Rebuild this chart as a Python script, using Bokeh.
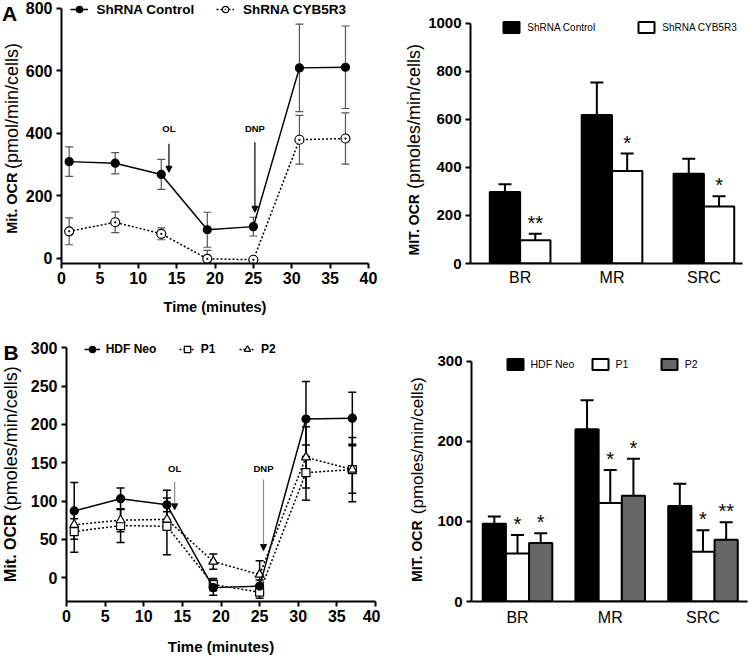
import numpy as np
from bokeh.plotting import figure
from bokeh.models import (ColumnDataSource, Whisker, TeeHead, Arrow, NormalHead, Legend,
                          LegendItem, Label, SingleIntervalTicker, FixedTicker)
from bokeh.layouts import column, row
from bokeh.embed import file_html
from bokeh.resources import INLINE
from bokeh.core.properties import value

FONT = "Liberation Sans"

# ---------------- data ----------------
time_min = [1, 7, 13, 19, 25, 31, 37]

# Panel A (left): mitochondrial OCR time course
shctrl_ocr = [309, 304, 268, 91, 101, 609, 611]
shctrl_err = [47, 34, 48, 56, 30, 140, 132]
shcyb_ocr = [86, 115, 78, -2, -5, 379, 383]
shcyb_err = [43, 33, 19, 27, 5, 78, 82]
a_injections = ["OL", "DNP"]
a_inj_time = [14, 25.2]
a_arrow_top = [366, 371]
a_arrow_tip = [275, 147]
a_inj_label_y = [414, 414]

# Panel A (right): bars
categories = ["BR", "MR", "SRC"]
a_ctrl_bar = [298, 619, 374]
a_ctrl_bar_err = [32, 135, 62]
a_cyb_bar = [97, 385, 237]
a_cyb_bar_err = [27, 73, 43]
a_cyb_stars = ["**", "*", "*"]

# Panel B (left): time course
hdf_ocr = [87, 103, 95, -13, -11, 207, 208]
hdf_err = [37, 14, 19, 10, 8, 49, 34]
p1_ocr = [60, 68, 67, -9, -19, 137, 141]
p1_err = [27, 22, 37, 8, 8, 36, 42]
p2_ocr = [69, 75, 76, 21, 4, 157, 141]
p2_err = [8, 15, 10, 10, 18, 40, 31]
b_injections = ["OL", "DNP"]
b_inj_time = [14, 25.5]
b_arrow_top = [125, 128]
b_arrow_tip = [88.5, 35.4]
b_inj_label_y = [143, 143]

# Panel B (right): bars
b_hdf_bar = [97, 215, 119]
b_hdf_bar_err = [9, 36, 28]
b_p1_bar = [60, 123, 62]
b_p1_bar_err = [23, 41, 27]
b_p2_bar = [73, 132, 77]
b_p2_bar_err = [12, 46, 22]
b_p1_stars = ["*", "*", "*"]
b_p2_stars = ["*", "*", "**"]


# ---------------- layout geometry (pixels) ----------------
class Geo:
    def __init__(self, fx, fy, w, h, left, right, top, bottom, xr, yr):
        self.fx, self.fy, self.w, self.h = fx, fy, w, h
        self.left, self.right, self.top, self.bottom = left, right, top, bottom
        self.fw = w - left - right
        self.fh = h - top - bottom
        self.xr, self.yr = xr, yr

    def fig(self, **kw):
        return figure(width=self.w, height=self.h, x_range=self.xr, y_range=self.yr,
                      output_backend="svg", toolbar_location=None,
                      min_border_left=self.left, min_border_right=self.right,
                      min_border_top=self.top, min_border_bottom=self.bottom, **kw)

    def loc(self, px, py):
        # legend bottom-left corner (page px) -> frame-relative screen offsets
        return (px - (self.fx + self.left), (self.fy + self.top + self.fh) - py)


def strip(fx, fy, w, h, top, bottom):
    # a text-only strip whose data units are page pixels
    g = Geo(fx, fy, w, h, 0, 0, top, bottom, (fx, fx + w), (fy + h - bottom, fy + top))
    p = g.fig(x_axis_type=None, y_axis_type=None)
    p.outline_line_color = None
    return p


# ---------------- helpers ----------------
def style(p, tick_size, x_bold=True, x_tick_out=5, x_standoff=3):
    p.xgrid.visible = False
    p.ygrid.visible = False
    p.outline_line_color = None
    for ax in list(p.xaxis) + list(p.yaxis):
        ax.axis_line_width = 2
        ax.axis_line_color = "black"
        ax.major_tick_line_width = 2
        ax.major_tick_line_color = "black"
        ax.major_tick_in = 0
        ax.major_tick_out = 5
        ax.minor_tick_line_color = None
        ax.major_label_text_font = FONT
        ax.major_label_text_font_size = tick_size
        ax.major_label_text_font_style = "bold"
        ax.major_label_text_color = "black"
        ax.major_label_standoff = 4
        ax.axis_label_text_font = FONT
        ax.axis_label_text_font_style = "bold"
        ax.axis_label_text_color = "black"
    for ax in p.xaxis:
        ax.major_tick_out = x_tick_out
        ax.major_label_standoff = x_standoff
        if not x_bold:
            ax.major_label_text_font_style = "normal"


def ylabel(p, px, py_bold, bold_text, bold_size, py_norm, norm_text, norm_size):
    for py, txt, size, st in ((py_bold, bold_text, bold_size, "bold"),
                              (py_norm, norm_text, norm_size, "normal")):
        p.add_layout(Label(x=px, y=py, text=txt, angle=90, angle_units="deg",
                           text_align="left", text_baseline="middle", text_font=FONT,
                           text_font_style=st, text_font_size=size, text_color="black"))


def panel_letter(p, text, px, py):
    p.add_layout(Label(x=px, y=py, text=text, text_align="left", text_baseline="top",
                       text_font=FONT, text_font_style="bold", text_font_size="21px",
                       text_color="black"))


def add_legend(p, g, renderers, label, px, py_bottom, gw, gh, standoff, size, bold):
    leg = Legend(items=[LegendItem(label=label, renderers=renderers)],
                 location=g.loc(px, py_bottom),
                 orientation="horizontal", glyph_width=int(gw), glyph_height=int(gh),
                 label_height=int(gh), label_width=10, label_standoff=int(round(standoff)),
                 padding=0, margin=0, spacing=0,
                 background_fill_alpha=0, border_line_alpha=0,
                 label_text_font=FONT, label_text_font_size=size,
                 label_text_font_style="bold" if bold else "normal", label_text_color="black")
    p.add_layout(leg)


def series(p, vals, errs, marker, fill, dash, err_color, err_w, size):
    src = ColumnDataSource(dict(x=time_min, y=vals,
                                lo=np.array(vals) - np.array(errs),
                                hi=np.array(vals) + np.array(errs)))
    p.add_layout(Whisker(base="x", upper="hi", lower="lo", source=src, line_color=err_color,
                         line_width=err_w,
                         upper_head=TeeHead(size=8, line_color=err_color, line_width=err_w),
                         lower_head=TeeHead(size=8, line_color=err_color, line_width=err_w)))
    ln = p.line("x", "y", source=src, line_color="black", line_width=1.5, line_dash=dash)
    sc = p.scatter("x", "y", source=src, marker=marker, size=size, fill_color=fill,
                   line_color="black", line_width=1.2)
    return [ln, sc]


def injections(p, names, xs, tops, tips, label_y, line_color):
    src = ColumnDataSource(dict(x=xs, top=tops, tip=tips))
    p.add_layout(Arrow(x_start="x", y_start="top", x_end="x", y_end="tip", source=src,
                       line_color=line_color, line_width=1.2,
                       end=NormalHead(size=6, fill_color="black", line_color="black",
                                      line_width=1)))
    p.text(x=xs, y=label_y, text=names, text_align="center", text_baseline="middle",
           text_font=value(FONT), text_font_style="bold", text_font_size="9.5px",
           text_color="black")


def bars(p, vals, errs, offset, width, fill, stars=None):
    xs = np.arange(1, len(categories) + 1) + offset
    src = ColumnDataSource(dict(x=xs, top=vals, hi=np.array(vals) + np.array(errs)))
    r = p.vbar(x="x", top="top", width=width, bottom=0, source=src, fill_color=fill,
               line_color="black", line_width=2)
    p.add_layout(Whisker(base="x", upper="hi", lower="top", source=src, line_color="black",
                         line_width=2, upper_head=TeeHead(size=13, line_color="black", line_width=2),
                         lower_head=None))
    if stars is not None:
        p.text(x=xs, y=np.array(vals) + np.array(errs), text=stars, text_align="center",
               text_baseline="bottom", text_font=value(FONT), text_font_size="20px",
               text_color="black")
    return r


def cat_axis(p):
    p.xaxis.ticker = FixedTicker(ticks=list(range(1, len(categories) + 1)))
    p.xaxis.major_label_overrides = {i + 1: c for i, c in enumerate(categories)}
    p.xaxis.major_label_text_font_size = "16px"


TOP_H, TOP_T, TOP_B = 320, 0, 57
BOT_Y, BOT_H, BOT_T, BOT_B = 320, 337, 16, 54

# ---------------- Panel A left ----------------
sA = strip(0, 0, 22, TOP_H, TOP_T, TOP_B)
ylabel(sA, 11.5, 233.3, "Mit. OCR", "14.5px", 168.5, "(pmol/min/cells)", "18px")
panel_letter(sA, "A", 1.5, 1.5)

gA = Geo(22, 0, 358, TOP_H, 39, 12, TOP_T, TOP_B, (0, 40), (-17, 824.6))
pa = gA.fig()
style(pa, "16px")
pa.xaxis.ticker = SingleIntervalTicker(interval=5, num_minor_ticks=0)
pa.yaxis.ticker = SingleIntervalTicker(interval=200, num_minor_ticks=0)
pa.yaxis.bounds = (gA.yr[0], 800)
pa.xaxis.axis_label = "Time (minutes)"
pa.xaxis.axis_label_text_font_size = "14.5px"
pa.xaxis.axis_label_standoff = 12
r_ctrl = series(pa, shctrl_ocr, shctrl_err, "circle", "black", "solid", "#555555", 1.2, 8)
r_cyb = series(pa, shcyb_ocr, shcyb_err, "circle_dot", "white", "2 2", "#555555", 1.2, 9)
injections(pa, a_injections, a_inj_time, a_arrow_top, a_arrow_tip, a_inj_label_y, "black")
add_legend(pa, gA, r_ctrl, "ShRNA Control", 69.5, 17.3, 18, 16, 9, "13.5px", True)
add_legend(pa, gA, r_cyb, "ShRNA CYB5R3", 216, 17.3, 18, 16, 9, "13.5px", True)

# ---------------- Panel A right ----------------
sB = strip(380, 0, 45, TOP_H, TOP_T, TOP_B)
ylabel(sB, 413.3, 255, "MIT. OCR", "14px", 188.5, "(pmoles/min/cells)", "18px")

gB = Geo(425, 0, 325, TOP_H, 42, 8, TOP_T, TOP_B, (0.46, 3.42), (0, 1095.8))
pb = gB.fig()
style(pb, "15px", x_bold=False, x_tick_out=0, x_standoff=5)
cat_axis(pb)
pb.yaxis.ticker = SingleIntervalTicker(interval=200, num_minor_ticks=0)
pb.yaxis.bounds = (0, 1000)
rb1 = bars(pb, a_ctrl_bar, a_ctrl_bar_err, -0.165, 0.33, "black")
rb2 = bars(pb, a_cyb_bar, a_cyb_bar_err, 0.165, 0.33, "white", a_cyb_stars)
add_legend(pb, gB, [rb1], "ShRNA Control", 498.3, 34.2, 20, 14, 6, "10px", False)
add_legend(pb, gB, [rb2], "ShRNA CYB5R3", 633.3, 34.2, 20, 14, 6, "10px", False)

# ---------------- Panel B left ----------------
sC = strip(0, BOT_Y, 24, BOT_H, BOT_T, BOT_B)
ylabel(sC, 10, 583.3, "Mit. OCR", "16px", 512, "(pmoles/min/cells)", "18px")
panel_letter(sC, "B", 3, 341)

gC = Geo(24, BOT_Y, 356, BOT_H, 42, 5, BOT_T, BOT_B, (0, 40), (-31.1, 314.6))
pc = gC.fig()
style(pc, "16px")
pc.xaxis.ticker = SingleIntervalTicker(interval=5, num_minor_ticks=0)
pc.yaxis.ticker = SingleIntervalTicker(interval=50, num_minor_ticks=0)
pc.yaxis.bounds = (gC.yr[0], 300)
pc.xaxis.axis_label = "Time (minutes)"
pc.xaxis.axis_label_text_font_size = "15px"
pc.xaxis.axis_label_standoff = 13
r_p1 = series(pc, p1_ocr, p1_err, "square", "white", "2 2", "black", 1.5, 8)
r_p2 = series(pc, p2_ocr, p2_err, "triangle", "white", "2 2", "black", 1.5, 9)
r_hdf = series(pc, hdf_ocr, hdf_err, "circle", "black", "solid", "black", 1.5, 8)
injections(pc, b_injections, b_inj_time, b_arrow_top, b_arrow_tip, b_inj_label_y, "#8a8a8a")
add_legend(pc, gC, r_hdf, "HDF Neo", 83.7, 358.7, 16, 16, 6, "12px", True)
add_legend(pc, gC, r_p1, "P1", 178.7, 358.7, 16, 16, 6, "12px", True)
add_legend(pc, gC, r_p2, "P2", 239, 358.7, 16, 16, 6, "12px", True)

# ---------------- Panel B right ----------------
sD = strip(380, BOT_Y, 48, BOT_H, BOT_T, BOT_B)
ylabel(sD, 416.7, 583.3, "MIT. OCR", "14px", 515, "(pmoles/min/cells)", "17px")

gD = Geo(428, BOT_Y, 322, BOT_H, 43, 3, BOT_T, BOT_B, (0.504, 3.48), (0, 330.6))
pd_ = gD.fig()
style(pd_, "15px", x_bold=False, x_tick_out=0, x_standoff=7)
cat_axis(pd_)
pd_.yaxis.ticker = SingleIntervalTicker(interval=100, num_minor_ticks=0)
pd_.yaxis.bounds = (0, 300)
rd1 = bars(pd_, b_hdf_bar, b_hdf_bar_err, -0.25, 0.25, "black")
rd2 = bars(pd_, b_p1_bar, b_p1_bar_err, 0.0, 0.25, "white", b_p1_stars)
rd3 = bars(pd_, b_p2_bar, b_p2_bar_err, 0.25, 0.25, "#666666", b_p2_stars)
add_legend(pd_, gD, [rd1], "HDF Neo", 504.5, 373.3, 20, 14, 6, "10.5px", False)
add_legend(pd_, gD, [rd2], "P1", 589.5, 373.3, 20, 14, 6, "10.5px", False)
add_legend(pd_, gD, [rd3], "P2", 658.7, 373.3, 20, 14, 6, "10.5px", False)

layout = column(row(sA, pa, sB, pb), row(sC, pc, sD, pd_))
open("out.html", "w").write(file_html(layout, INLINE))
